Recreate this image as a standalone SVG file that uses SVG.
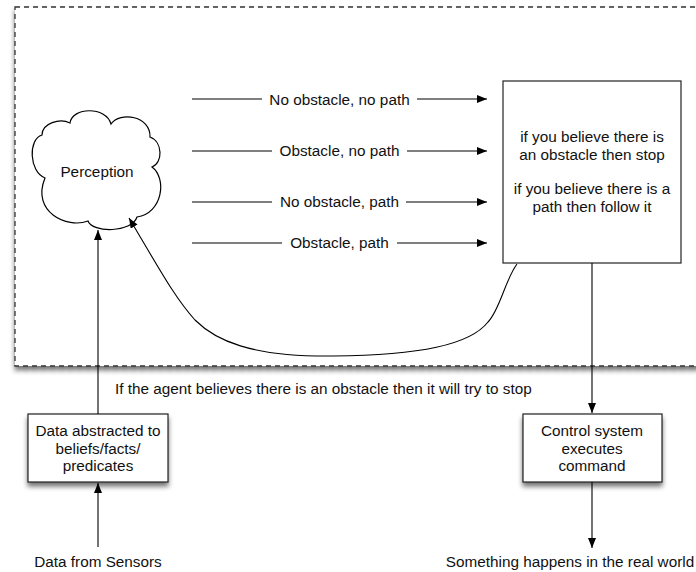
<svg xmlns="http://www.w3.org/2000/svg" width="696" height="572" viewBox="0 0 696 572">
<defs>
<style>
text{font-family:"Liberation Sans",Arial,sans-serif;font-size:15.3px;fill:#111;}
.c{text-anchor:middle;}
.ln{fill:none;stroke:#000;stroke-width:1.1;}
.box{fill:#fff;stroke:#222;stroke-width:1.2;}
</style>
<marker id="ah" markerUnits="userSpaceOnUse" markerWidth="11" markerHeight="9" refX="10" refY="4" orient="auto">
<path d="M0,0 L10,4 L0,8 z" fill="#000"/>
</marker>
<filter id="sh" x="-10%" y="-10%" width="130%" height="140%">
<feGaussianBlur in="SourceAlpha" stdDeviation="2.5"/>
<feOffset dx="0" dy="4" result="b"/>
<feComponentTransfer><feFuncA type="linear" slope="0.55"/></feComponentTransfer>
<feMerge><feMergeNode/><feMergeNode in="SourceGraphic"/></feMerge>
</filter>
</defs>
<rect width="696" height="572" fill="#fff"/>
<g id="frame">
<rect x="15" y="7" width="700" height="359" fill="#fff" stroke="#333" stroke-width="1.3" stroke-dasharray="5,4" filter="url(#sh)"/>
</g>
<g id="perception">
<path d="M70,123 C72,107 106,106 111,124 C120,111 151,116 150,137 C163,142 163,163 152,167 C167,178 163,213 137,217 C132,233 92,233 88,221 C67,229 31,212 45,178 C29,172 28,139 42,135 C42,123 60,118 70,123 Z" fill="#fff" stroke="#000" stroke-width="1.2"/>
<text x="97" y="177" class="c">Perception</text>
</g>
<g id="rules">
<rect x="503" y="81" width="178" height="182" class="box"/>
<text x="592" y="142" class="c">if you believe there is</text>
<text x="592" y="159.5" class="c">an obstacle then stop</text>
<text x="592" y="194" class="c">if you believe there is a</text>
<text x="592" y="211.5" class="c">path then follow it</text>
</g>
<g id="abstract">
<rect x="28" y="414" width="140" height="68" class="box" filter="url(#sh)"/>
<text x="98" y="436" class="c">Data abstracted to</text>
<text x="98" y="454" class="c">beliefs/facts/</text>
<text x="98" y="471" class="c">predicates</text>
</g>
<g id="control">
<rect x="523" y="414" width="139" height="68" class="box" filter="url(#sh)"/>
<text x="592" y="436" class="c">Control system</text>
<text x="592" y="454" class="c">executes</text>
<text x="592" y="471" class="c">command</text>
</g>
<g id="connectors">
<line x1="192" y1="99" x2="262" y2="99" class="ln"/>
<line x1="417" y1="99" x2="487" y2="99" class="ln" marker-end="url(#ah)"/>
<text x="339.5" y="104.5" class="c">No obstacle, no path</text>
<line x1="192" y1="151" x2="272" y2="151" class="ln"/>
<line x1="407" y1="151" x2="487" y2="151" class="ln" marker-end="url(#ah)"/>
<text x="339.5" y="156" class="c">Obstacle, no path</text>
<line x1="192" y1="202" x2="272" y2="202" class="ln"/>
<line x1="406" y1="202" x2="487" y2="202" class="ln" marker-end="url(#ah)"/>
<text x="339.5" y="207" class="c">No obstacle, path</text>
<line x1="192" y1="243" x2="282" y2="243" class="ln"/>
<line x1="397" y1="243" x2="487" y2="243" class="ln" marker-end="url(#ah)"/>
<text x="339.5" y="248" class="c">Obstacle, path</text>
<path d="M517,264 C505,280 500,310 488,322 C470,345 420,355 333,356 C250,357 215,340 195,320 C175,298 160,270 129,218" class="ln" marker-end="url(#ah)"/>
<line x1="98" y1="414" x2="98" y2="230" class="ln" marker-end="url(#ah)"/>
<line x1="98" y1="547" x2="98" y2="483" class="ln" marker-end="url(#ah)"/>
<line x1="592" y1="263" x2="592" y2="413" class="ln" marker-end="url(#ah)"/>
<line x1="592" y1="482" x2="592" y2="548" class="ln" marker-end="url(#ah)"/>
<text x="115" y="394">If the agent believes there is an obstacle then it will try to stop</text>
<text x="98" y="567" class="c">Data from Sensors</text>
<text x="570" y="567" class="c">Something happens in the real world</text>
</g>
</svg>
